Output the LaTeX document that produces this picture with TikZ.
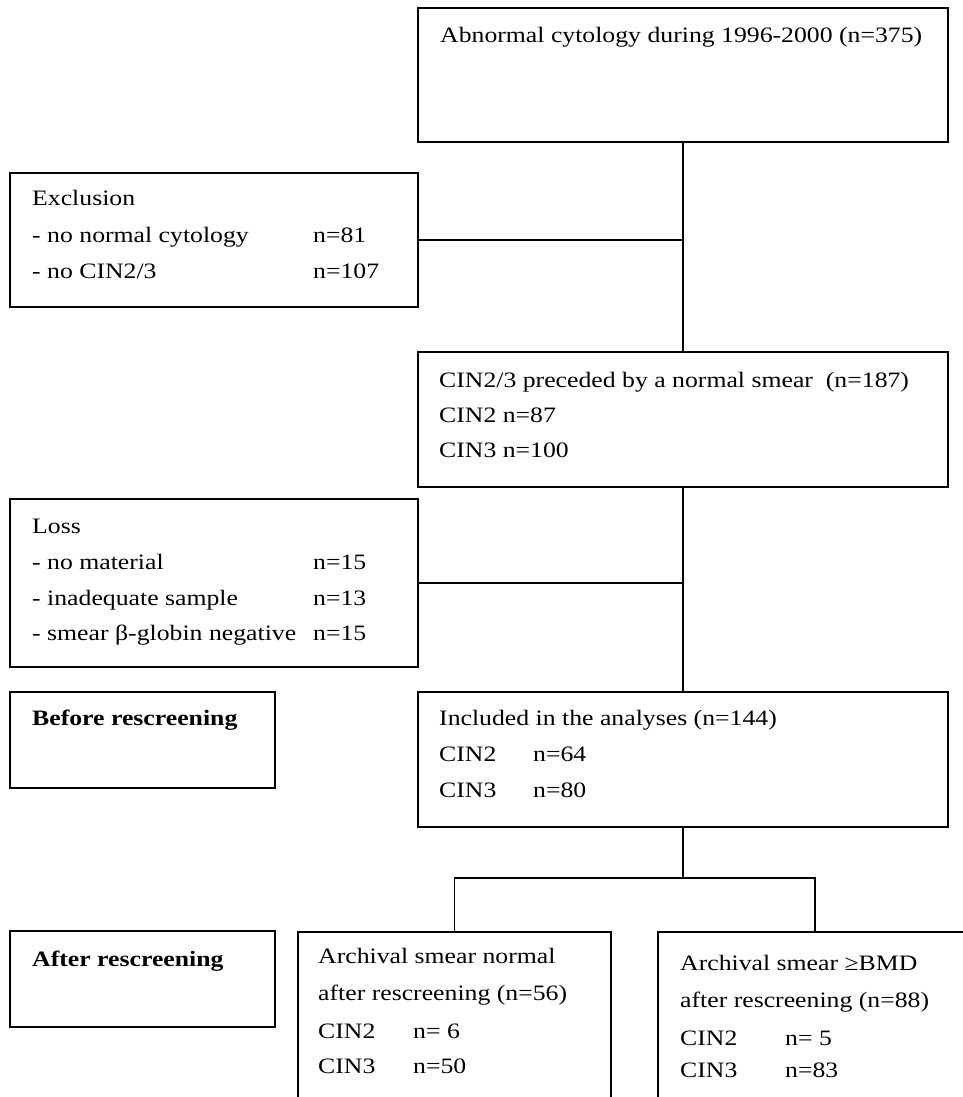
\documentclass[tikz,border=0pt]{standalone}
\usepackage{fontspec}
\setmainfont{Liberation Serif}[FakeStretch=1.17]
\begin{document}
\begin{tikzpicture}[x=1pt,y=-1pt,
  box/.style={draw, line width=1.8pt, rectangle, inner sep=0pt, outer sep=0pt, anchor=north west},
  txt/.style={anchor=base west, inner sep=0pt, font=\fontsize{22}{26}\selectfont},
  btxt/.style={anchor=base west, inner sep=0pt, font=\fontsize{22}{26}\selectfont\bfseries},
  conn/.style={line width=1.8pt}]
\useasboundingbox (0,0) rectangle (963,1097);
% boxes
\node[box, minimum width=530pt, minimum height=134pt] (top) at (418,8) {};
\node[box, minimum width=408pt, minimum height=134pt] (excl) at (10,173) {};
\node[box, minimum width=530pt, minimum height=135pt] (cin) at (418,352) {};
\node[box, minimum width=408pt, minimum height=168pt] (loss) at (10,499) {};
\node[box, minimum width=265pt, minimum height=96pt] (before) at (10,692) {};
\node[box, minimum width=530pt, minimum height=135pt] (incl) at (418,692) {};
\node[box, minimum width=265pt, minimum height=96pt] (after) at (10,931) {};
\node[box, minimum width=313pt, minimum height=180pt] (lb) at (298,932) {};
\node[box, minimum width=314pt, minimum height=180pt] (rb) at (658,932) {};
% connectors
\draw[conn] (top.south) -- (cin.north);
\draw[conn] (excl.east) -- (excl.east -| top.south);
\draw[conn] (cin.south) -- (incl.north);
\draw[conn] (loss.east) -- (loss.east -| cin.south);
\coordinate (j) at (683,878);
\draw[conn] (incl.south) -- (j);
\draw[conn] (lb.north) |- (j) -| (rb.north);
% texts
\node[txt] (t1) at (440,43) {Abnormal cytology during 1996-2000 (n=375)};
\node[txt] (t2) at (32,205) {Exclusion};
\node[txt] (t3) at (32,242) {- no normal cytology};
\node[txt] (t4) at (313,242) {n=81};
\node[txt] (t5) at (32,278) {- no CIN2/3};
\node[txt] (t6) at (313,278) {n=107};
\node[txt] (t7) at (439,387) {CIN2/3 preceded by a normal smear\ \ (n=187)};
\node[txt] (t8) at (439,422) {CIN2 n=87};
\node[txt] (t9) at (439,457) {CIN3 n=100};
\node[txt] (t10) at (32,533) {Loss};
\node[txt] (t11) at (32,569) {- no material};
\node[txt] (t12) at (313,569) {n=15};
\node[txt] (t13) at (32,605) {- inadequate sample};
\node[txt] (t14) at (313,605) {n=13};
\node[txt] (t15) at (32,640) {- smear β-globin negative};
\node[txt] (t16) at (313,640) {n=15};
\node[btxt] (t17) at (32,725) {Before rescreening};
\node[txt] (t18) at (439,725) {Included in the analyses (n=144)};
\node[txt] (t19) at (439,761) {CIN2};
\node[txt] (t20) at (533,761) {n=64};
\node[txt] (t21) at (439,797) {CIN3};
\node[txt] (t22) at (533,797) {n=80};
\node[btxt] (t23) at (32,966) {After rescreening};
\node[txt] (t24) at (318,963) {Archival smear normal};
\node[txt] (t25) at (318,1000) {after rescreening (n=56)};
\node[txt] (t26) at (318,1038) {CIN2};
\node[txt] (t27) at (413,1038) {n= 6};
\node[txt] (t28) at (318,1073) {CIN3};
\node[txt] (t29) at (413,1073) {n=50};
\node[txt] (t30) at (680,970) {Archival smear ≥BMD};
\node[txt] (t31) at (680,1007) {after rescreening (n=88)};
\node[txt] (t32) at (680,1045) {CIN2};
\node[txt] (t33) at (785,1045) {n= 5};
\node[txt] (t34) at (680,1077) {CIN3};
\node[txt] (t35) at (785,1077) {n=83};
\end{tikzpicture}
\end{document}
